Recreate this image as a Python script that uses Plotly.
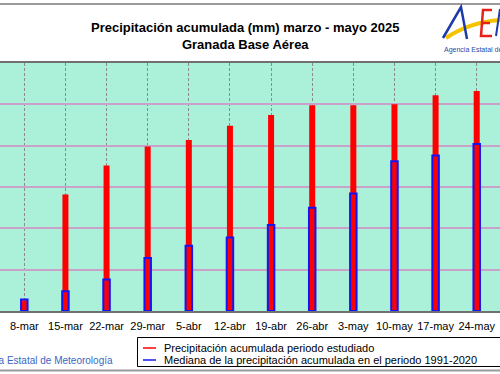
import plotly.graph_objects as go

fechas = ['8-mar', '15-mar', '22-mar', '29-mar', '5-abr', '12-abr',
          '19-abr', '26-abr', '3-may', '10-may', '17-may', '24-may']
precip_acumulada = [13, 141, 176, 199, 207, 224, 237, 249, 249, 250, 261, 266]
mediana_1991_2020 = [14, 24, 38, 64, 79, 89, 104, 125, 142, 181, 188, 202]

titulo = 'Precipitación acumulada (mm) marzo - mayo 2025<br>Granada Base Aérea'
leyenda = ['Precipitación acumulada periodo estudiado',
           'Mediana de la precipitación acumulada en el periodo 1991-2020']

W, H = 500, 374
T, B = 63, 311


def px(x):
    return x / W


def py(y):
    return (B - y) / (B - T)


FONT = 'Arial, Liberation Sans, sans-serif'

fig = go.Figure()
fig.add_trace(go.Bar(x=fechas, y=precip_acumulada, width=0.146,
                     marker=dict(color='#ff0000', line=dict(width=0)),
                     name=leyenda[0], showlegend=False))
fig.add_trace(go.Bar(x=fechas, y=mediana_1991_2020, width=0.158,
                     marker=dict(color='rgba(0,0,0,0)', line=dict(color='#1414f5', width=2)),
                     name=leyenda[1], showlegend=False))

shapes = []
# outer gray borders
shapes.append(dict(type='line', xref='paper', yref='paper', x0=0, x1=1, y0=py(4), y1=py(4),
                   line=dict(color='#9a9a9a', width=2)))
shapes.append(dict(type='line', xref='paper', yref='paper', x0=0, x1=1, y0=py(370.5), y1=py(370.5),
                   line=dict(color='#9a9a9a', width=2)))
# legend box
shapes.append(dict(type='rect', xref='paper', yref='paper', x0=px(137.5), x1=px(510),
                   y0=py(366.5), y1=py(337.5), line=dict(color='#000000', width=1)))
shapes.append(dict(type='line', xref='paper', yref='paper', x0=px(143), x1=px(156),
                   y0=py(348), y1=py(348), line=dict(color='#ff0000', width=1.5)))
shapes.append(dict(type='line', xref='paper', yref='paper', x0=px(143), x1=px(156),
                   y0=py(360), y1=py(360), line=dict(color='#1414f5', width=1.5)))


def path(pts):
    return 'M ' + ' L '.join(f'{px(x):.4f},{py(y):.4f}' for x, y in pts)


# logo (approximation)
shapes.append(dict(type='path', xref='paper', yref='paper',
                   path=f'M {px(446):.4f},{py(38):.4f} Q {px(470):.4f},{py(22):.4f} {px(501):.4f},{py(20):.4f}',
                   line=dict(color='#f5c400', width=4)))
shapes.append(dict(type='path', xref='paper', yref='paper',
                   path=path([(443, 38), (461, 7), (467, 39)]),
                   line=dict(color='#1c3aa8', width=2.5)))
shapes.append(dict(type='path', xref='paper', yref='paper',
                   path=path([(492, 10), (483, 10), (481, 36), (492, 36)]),
                   line=dict(color='#e8201c', width=2.5)))
shapes.append(dict(type='path', xref='paper', yref='paper',
                   path=path([(482, 23), (490, 23)]),
                   line=dict(color='#e8201c', width=2.5)))
shapes.append(dict(type='path', xref='paper', yref='paper',
                   path=path([(496, 36), (500, 9)]),
                   line=dict(color='#1c3aa8', width=2)))

annotations = [
    dict(text='<b>' + titulo.replace('<br>', '</b><br><b>') + '</b>', xref='paper', yref='paper',
         x=px(245), y=py(35.5), xanchor='center', yanchor='middle', showarrow=False,
         font=dict(family=FONT, size=13, color='#000000'), align='center'),
    dict(text=leyenda[0], xref='paper', yref='paper', x=px(162), y=py(348),
         xanchor='left', yanchor='middle', showarrow=False,
         font=dict(family=FONT, size=11, color='#000000')),
    dict(text=leyenda[1], xref='paper', yref='paper', x=px(162), y=py(360),
         xanchor='left', yanchor='middle', showarrow=False,
         font=dict(family=FONT, size=11, color='#000000')),
    dict(text='Agencia Estatal de Meteorología', xref='paper', yref='paper', x=px(115), y=py(360.5),
         xanchor='right', yanchor='middle', showarrow=False,
         font=dict(family=FONT, size=10, color='#3a66c4')),
    dict(text='Agencia Estatal de', xref='paper', yref='paper', x=px(442), y=py(50),
         xanchor='left', yanchor='middle', showarrow=False,
         font=dict(family=FONT, size=7, color='#2a4aa8')),
]

fig.update_layout(
    width=W, height=H,
    margin=dict(l=0, r=0, t=T, b=H - B, pad=0),
    paper_bgcolor='#ffffff',
    plot_bgcolor='#abf1da',
    barmode='overlay',
    showlegend=False,
    shapes=shapes,
    annotations=annotations,
    xaxis=dict(type='category', range=[-0.591, 11.566], showgrid=True,
               gridcolor='#8a8a8a', griddash='3px,2px', gridwidth=1,
               showline=True, mirror=True, linecolor='#707070', linewidth=2,
               ticks='', ticklabelstandoff=4,
               tickfont=dict(family=FONT, size=11, color='#000000'), zeroline=False),
    yaxis=dict(range=[0, 300], dtick=50, showgrid=True, gridcolor='#c8a2c8', gridwidth=1.5,
               showticklabels=False, ticks='', zeroline=False, showline=False),
)

fig.write_html('out.html', config={'displayModeBar': False},
               post_script="document.body.style.margin='0';document.body.style.overflow='hidden';")
